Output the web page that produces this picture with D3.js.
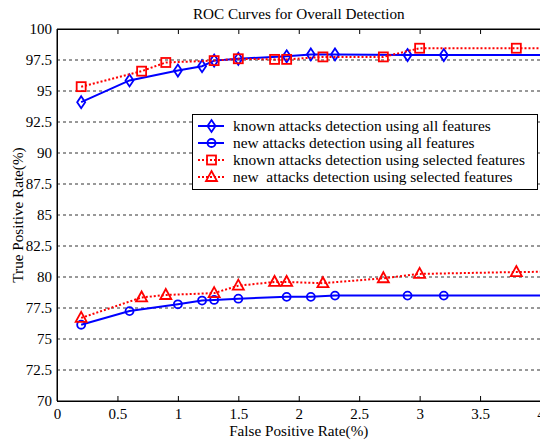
<!DOCTYPE html>
<html lang="en">
<head>
    <meta charset="UTF-8">
    <title>ROC Curves for Overall Detection</title>
    <script src="https://d3js.org/d3.v7.min.js"></script>
    <style>
        body { margin: 0; background: #fff; }
        svg { display: block; font-family: "Liberation Serif", "Times New Roman", serif; }
        .grid line { stroke: #333; stroke-width: 1; stroke-dasharray: 3,3; }
        .frame { stroke: #000; stroke-width: 1; fill: none; }
    </style>
</head>
<body>
    <svg width="540" height="444"></svg>

    <script>
        // x 值 (False Positive Rate %)，最后一个点在可见区域之外
        const fprAll = [0.2, 0.6, 1.0, 1.2, 1.3, 1.5, 1.9, 2.1, 2.3, 2.9, 3.2, 4.3];
        const fprSel = [0.2, 0.7, 0.9, 1.3, 1.5, 1.8, 1.9, 2.2, 2.7, 3.0, 3.8, 4.3];

        // y 值 (True Positive Rate %)
        const knownAll = [94.1, 95.85, 96.65, 97.0, 97.45, 97.6, 97.8, 97.95, 97.95, 97.9, 97.9, 97.9];
        const newAll   = [76.15, 77.25, 77.8, 78.1, 78.15, 78.25, 78.4, 78.4, 78.5, 78.5, 78.5, 78.5];
        const knownSel = [95.35, 96.6, 97.3, 97.45, 97.6, 97.55, 97.55, 97.75, 97.75, 98.45, 98.45, 98.45];
        const newSel   = [76.7, 78.35, 78.55, 78.7, 79.3, 79.6, 79.6, 79.5, 79.9, 80.25, 80.4, 80.45];

        const seriesNames = [
            "known attacks detection using all features",
            "new attacks detection using all features",
            "known attacks detection using selected features",
            "new  attacks detection using selected features"
        ];

        const xTicks = [0, 0.5, 1, 1.5, 2, 2.5, 3, 3.5, 4];
        const yTicks = [70, 72.5, 75, 77.5, 80, 82.5, 85, 87.5, 90, 92.5, 95, 97.5, 100];

        const series = [
            { name: seriesNames[0], xs: fprAll, ys: knownAll, color: "#0000ff", dash: null, symbol: "diamond" },
            { name: seriesNames[1], xs: fprAll, ys: newAll, color: "#0000ff", dash: null, symbol: "circle" },
            { name: seriesNames[2], xs: fprSel, ys: knownSel, color: "#ff0000", dash: "2,2", symbol: "square" },
            { name: seriesNames[3], xs: fprSel, ys: newSel, color: "#ff0000", dash: "2,2", symbol: "triangle" }
        ];

        const svg = d3.select("svg");
        const mLeft = 57, mRight = 540.5, mTop = 29, mBottom = 401;

        const x = d3.scaleLinear().domain([0, 4]).range([mLeft, mRight]);
        const y = d3.scaleLinear().domain([70, 100]).range([mBottom, mTop]);

        // 裁剪区域
        svg.append("defs").append("clipPath")
            .attr("id", "clip")
            .append("rect")
            .attr("x", mLeft).attr("y", mTop)
            .attr("width", mRight - mLeft + 20).attr("height", mBottom - mTop);

        // 标题
        svg.append("text")
            .attr("x", (mLeft + mRight) / 2)
            .attr("y", 18.5)
            .attr("text-anchor", "middle")
            .attr("font-size", 15.2)
            .text("ROC Curves for Overall Detection");

        // 水平网格线
        svg.append("g")
            .attr("class", "grid")
            .selectAll("line")
            .data(yTicks.filter(d => d > 70 && d < 100))
            .join("line")
            .attr("x1", mLeft).attr("x2", mRight)
            .attr("y1", d => y(d)).attr("y2", d => y(d));

        // 坐标轴 (刻度朝内)
        const xAxisB = d3.axisBottom(x).tickValues(xTicks).tickSizeInner(-5).tickSizeOuter(0)
            .tickPadding(7).tickFormat(d3.format("~g"));
        const gxb = svg.append("g").attr("transform", `translate(0,${mBottom})`).call(xAxisB);

        const xAxisT = d3.axisTop(x).tickValues(xTicks).tickSizeInner(-5).tickSizeOuter(0).tickFormat("");
        const gxt = svg.append("g").attr("transform", `translate(0,${mTop})`).call(xAxisT);

        const yAxis = d3.axisLeft(y).tickValues(yTicks).tickSizeInner(-5).tickSizeOuter(0)
            .tickPadding(5).tickFormat(d3.format("~g"));
        const gy = svg.append("g").attr("transform", `translate(${mLeft},0)`).call(yAxis);

        [gxb, gxt, gy].forEach(g => {
            g.attr("font-family", null).attr("font-size", 15);
            g.select(".domain").attr("stroke", "#000");
            g.selectAll(".tick line").attr("stroke", "#000");
            g.selectAll(".tick text").attr("fill", "#000");
        });
        gy.selectAll(".tick line").filter(d => d > 70 && d < 100).remove();
        gxb.selectAll(".tick line").filter(d => d === 0 || d === 4).remove();
        gxt.selectAll(".tick line").filter(d => d === 0 || d === 4).remove();

        // 轴标签
        svg.append("text")
            .attr("x", (mLeft + mRight) / 2)
            .attr("y", 436)
            .attr("text-anchor", "middle")
            .attr("font-size", 15.2)
            .text("False Positive Rate(%)");

        svg.append("text")
            .attr("transform", `translate(22.5,${(mTop + mBottom) / 2}) rotate(-90)`)
            .attr("text-anchor", "middle")
            .attr("font-size", 15.2)
            .text("True Positive Rate(%)");

        // 标记形状
        function drawMarker(g, type, color) {
            if (type === "diamond") {
                g.append("path").attr("d", "M0,-6L4,0L0,6L-4,0Z");
            } else if (type === "circle") {
                g.append("circle").attr("r", 4);
            } else if (type === "square") {
                g.append("rect").attr("x", -4.5).attr("y", -4.5).attr("width", 9).attr("height", 9);
            } else {
                g.append("path").attr("d", "M0,-6L5.5,4L-5.5,4Z");
            }
            g.selectAll("*").attr("fill", "none").attr("stroke", color).attr("stroke-width", 1.8);
        }

        const plot = svg.append("g").attr("clip-path", "url(#clip)");
        const line = d3.line().x(d => x(d[0])).y(d => y(d[1]));

        series.forEach(s => {
            const pts = s.xs.map((v, i) => [v, s.ys[i]]);
            plot.append("path")
                .datum(pts)
                .attr("d", line)
                .attr("fill", "none")
                .attr("stroke", s.color)
                .attr("stroke-width", 2)
                .attr("stroke-dasharray", s.dash);
            plot.append("g").selectAll("g")
                .data(pts)
                .join("g")
                .attr("transform", d => `translate(${x(d[0])},${y(d[1])})`)
                .each(function () { drawMarker(d3.select(this), s.symbol, s.color); });
        });

        // 边框
        svg.append("path").attr("class", "frame")
            .attr("d", `M${mRight},${mTop}H${mLeft}V${mBottom}H${mRight}`);

        // 图例
        const legend = svg.append("g");
        legend.append("rect")
            .attr("x", 192.5).attr("y", 114.5)
            .attr("width", 345).attr("height", 75)
            .attr("fill", "#fff").attr("stroke", "#000");

        const rows = legend.selectAll("g.row")
            .data(series)
            .join("g")
            .attr("class", "row")
            .attr("transform", (d, i) => `translate(0,${126 + i * 17})`);

        rows.append("line")
            .attr("x1", 198).attr("x2", 224)
            .attr("stroke", d => d.color)
            .attr("stroke-width", 2)
            .attr("stroke-dasharray", d => d.dash);
        rows.append("g")
            .attr("transform", "translate(211.5,0)")
            .each(function (d) { drawMarker(d3.select(this), d.symbol, d.color); });
        rows.append("text")
            .attr("x", 233)
            .attr("dy", "0.33em")
            .attr("font-size", 15.4)
            .attr("xml:space", "preserve")
            .style("white-space", "pre")
            .text(d => d.name);
    </script>
</body>
</html>
